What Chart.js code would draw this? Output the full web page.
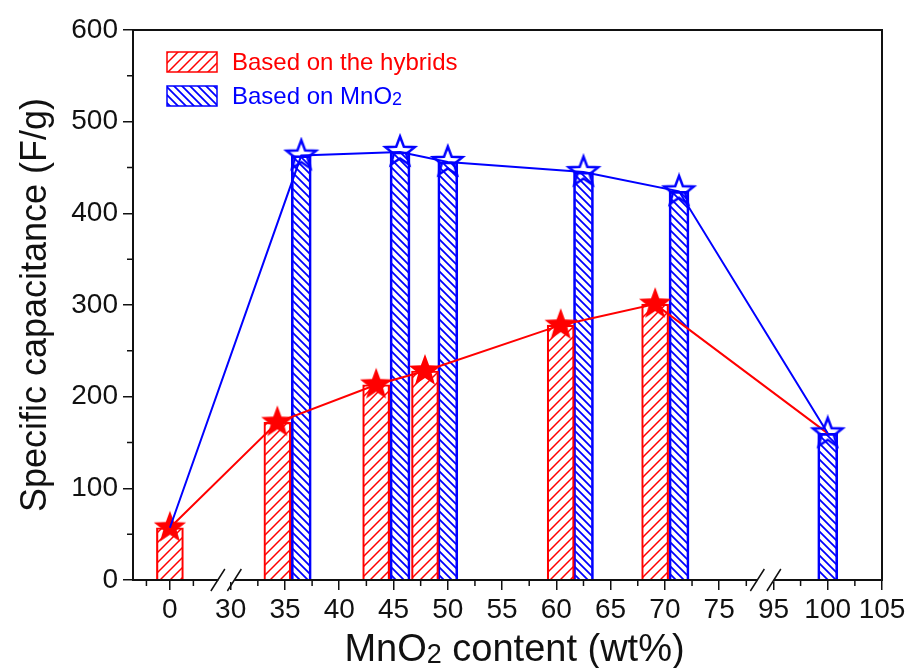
<!DOCTYPE html>
<html>
<head>
<meta charset="utf-8">
<script src="https://cdn.jsdelivr.net/npm/chart.js@4"></script>
<style>
  html, body { margin: 0; background: #fff; }
  #wrap { width: 912px; height: 668px; }
</style>
</head>
<body>
<div id="wrap"><canvas id="chart" width="912" height="668"></canvas></div>
<script>
// values
const hybridContent = [0, 34.3, 43.4, 47.9, 60.4, 69.1];      // wt% MnO2, red bars
const hybridCap = [57, 172, 213, 228, 278, 301];              // F/g
const mno2Content = [36.5, 45.6, 50.0, 62.5, 71.3, 100];     // wt% MnO2, blue bars
const mno2Cap = [463, 467, 456, 445, 424, 160];               // F/g
const xTickLabels = [0, 30, 35, 40, 45, 50, 55, 60, 65, 70, 75, 95, 100, 105];
const xMinorTicks = [-2.5, 2.5, 32.5, 37.5, 42.5, 47.5, 52.5, 57.5, 62.5, 67.5, 72.5, 77.5, 97.5, 102.5];
const yMinorTicks = [50, 150, 250, 350, 450, 550];

const RED = '#ff0000';
const BLUE = '#0000ff';
const FONT = '"Liberation Sans", Arial, sans-serif';

// broken x axis: 0 | 30..75 | 95..105
function axisPos(wt) {
  if (wt <= 15) return 24.4 + wt * 0.865;
  if (wt <= 85) return wt;
  return wt - 15;
}
const breaks = [29.6, 79.3]; // in axis units

const canvas = document.getElementById('chart');
const c2d = canvas.getContext('2d');

function hatch(color, size, lw, up) {
  const c = document.createElement('canvas');
  c.width = size; c.height = size;
  const g = c.getContext('2d');
  g.strokeStyle = color; g.lineWidth = lw;
  g.beginPath();
  if (up) {
    g.moveTo(0, size); g.lineTo(size, 0);
    g.moveTo(-size / 2, size / 2); g.lineTo(size / 2, -size / 2);
    g.moveTo(size / 2, size * 1.5); g.lineTo(size * 1.5, size / 2);
  } else {
    g.moveTo(0, 0); g.lineTo(size, size);
    g.moveTo(-size / 2, size / 2); g.lineTo(size / 2, size * 1.5);
    g.moveTo(size / 2, -size / 2); g.lineTo(size * 1.5, size / 2);
  }
  g.stroke();
  return c2d.createPattern(c, 'repeat');
}

function star(r, inner, fill, stroke, lw) {
  const s = Math.ceil(2 * r + lw + 4);
  const c = document.createElement('canvas');
  c.width = s; c.height = s;
  const g = c.getContext('2d');
  g.beginPath();
  for (let i = 0; i < 10; i++) {
    const a = -Math.PI / 2 + i * Math.PI / 5;
    const rr = i % 2 ? inner : r;
    g.lineTo(s / 2 + rr * Math.cos(a), s / 2 + rr * Math.sin(a));
  }
  g.closePath();
  if (fill) { g.fillStyle = fill; g.fill(); }
  if (stroke) { g.strokeStyle = stroke; g.lineWidth = lw; g.lineJoin = 'miter'; g.stroke(); }
  return c;
}

const redHatch = hatch(RED, 10, 1.5, true);
const blueHatch = hatch(BLUE, 8, 1.8, false);
const redStar = star(17, 7, RED, null, 0);
const blueStar = star(15.5, 6.5, null, BLUE, 2.5);

const hybridPts = hybridContent.map((v, i) => ({ x: axisPos(v), y: hybridCap[i] }));
const mno2Pts = mno2Content.map((v, i) => ({ x: axisPos(v), y: mno2Cap[i] }));
// the two curves share their end points (pure samples)
const redLine = hybridPts.concat([mno2Pts[mno2Pts.length - 1]]);
const blueLine = [hybridPts[0]].concat(mno2Pts);

const decor = {
  id: 'decor',
  afterDraw(chart) {
    const { ctx, chartArea: a, scales: { x, y } } = chart;
    ctx.save();
    ctx.strokeStyle = '#111';
    ctx.lineWidth = 2;
    ctx.strokeRect(a.left, a.top, a.right - a.left, a.bottom - a.top);

    ctx.lineWidth = 1.5;
    ctx.beginPath();
    xMinorTicks.forEach(v => {
      const px = x.getPixelForValue(axisPos(v));
      ctx.moveTo(px, a.bottom); ctx.lineTo(px, a.bottom + 6);
    });
    yMinorTicks.forEach(v => {
      const py = y.getPixelForValue(v);
      ctx.moveTo(a.left, py); ctx.lineTo(a.left - 6, py);
    });
    ctx.stroke();

    // axis breaks
    breaks.forEach(b => {
      const px = x.getPixelForValue(b);
      ctx.fillStyle = '#fff';
      ctx.fillRect(px - 8, a.bottom - 2, 16, 4);
      ctx.beginPath();
      [-8.5, 8].forEach(d => {
        ctx.moveTo(px + d - 7, a.bottom + 11);
        ctx.lineTo(px + d + 7, a.bottom - 11);
      });
      ctx.stroke();
    });

    // x title with subscript
    const big = '38px ' + FONT, sub = '27px ' + FONT;
    ctx.fillStyle = '#111';
    ctx.textBaseline = 'alphabetic';
    ctx.textAlign = 'left';
    ctx.font = big;
    const w1 = ctx.measureText('MnO').width;
    const w3 = ctx.measureText(' content (wt%)').width;
    ctx.font = sub;
    const w2 = ctx.measureText('2').width;
    let tx = (a.left + a.right) / 2 + 7 - (w1 + w2 + w3) / 2;
    const ty = 661;
    ctx.font = big; ctx.fillText('MnO', tx, ty); tx += w1;
    ctx.font = sub; ctx.fillText('2', tx, ty + 2); tx += w2;
    ctx.font = big; ctx.fillText(' content (wt%)', tx, ty);

    // legend
    const rows = [
      { pat: redHatch, col: RED, text: 'Based on the hybrids', sub: '' },
      { pat: blueHatch, col: BLUE, text: 'Based on MnO', sub: '2' }
    ];
    rows.forEach((r, i) => {
      const top = 52 + i * 34;
      ctx.fillStyle = r.pat;
      ctx.fillRect(167, top, 50, 20);
      ctx.strokeStyle = r.col;
      ctx.lineWidth = 1.5;
      ctx.strokeRect(167, top, 50, 20);
      ctx.fillStyle = r.col;
      ctx.font = '24px ' + FONT;
      ctx.fillText(r.text, 232, top + 18);
      if (r.sub) {
        const w = ctx.measureText(r.text).width;
        ctx.font = '18px ' + FONT;
        ctx.fillText(r.sub, 232 + w, top + 19);
      }
    });
    ctx.restore();
  }
};

new Chart(canvas, {
  type: 'bar',
  data: {
    datasets: [
      {
        type: 'line',
        label: 'Hybrids',
        data: redLine,
        borderColor: RED,
        borderWidth: 2,
        pointStyle: redStar,
        pointRadius: redLine.map((p, i) => i === redLine.length - 1 ? 0 : 10),
        order: 1
      },
      {
        type: 'line',
        label: 'MnO2',
        data: blueLine,
        borderColor: BLUE,
        borderWidth: 2,
        pointStyle: blueStar,
        pointRadius: blueLine.map((p, i) => i === 0 ? 0 : 10),
        order: 0
      },
      {
        label: 'Based on the hybrids',
        data: hybridPts,
        backgroundColor: redHatch,
        borderColor: RED,
        borderWidth: 1.5,
        barThickness: 27,
        grouped: false,
        order: 2
      },
      {
        label: 'Based on MnO2',
        data: mno2Pts,
        backgroundColor: blueHatch,
        borderColor: BLUE,
        borderWidth: 2,
        barThickness: 20,
        grouped: false,
        order: 2
      }
    ]
  },
  options: {
    responsive: false,
    animation: false,
    layout: { padding: { top: 30, right: 30, left: 0, bottom: 0 } },
    plugins: { legend: { display: false }, tooltip: { enabled: false } },
    scales: {
      x: {
        type: 'linear',
        min: 21,
        max: 90,
        offset: false,
        afterBuildTicks: s => { s.ticks = xTickLabels.map(v => ({ value: axisPos(v) })); },
        afterFit: s => { s.height = 88; },
        border: { display: false },
        grid: { offset: false, drawOnChartArea: false, tickLength: 10, color: '#111', lineWidth: 1.5 },
        ticks: {
          autoSkip: false,
          maxRotation: 0,
          padding: 3,
          color: '#111',
          font: { size: 28, family: FONT },
          callback: (v, i) => String(xTickLabels[i])
        }
      },
      y: {
        min: 0,
        max: 600,
        afterFit: s => { s.width = 133; },
        border: { display: false },
        grid: { drawOnChartArea: false, tickLength: 10, color: '#111', lineWidth: 1.5 },
        ticks: {
          stepSize: 100,
          padding: 5,
          color: '#111',
          font: { size: 28, family: FONT }
        },
        title: {
          display: true,
          text: 'Specific capacitance (F/g)',
          color: '#111',
          font: { size: 36, family: FONT },
          padding: { top: 14 }
        }
      }
    }
  },
  plugins: [decor]
});
</script>
</body>
</html>
